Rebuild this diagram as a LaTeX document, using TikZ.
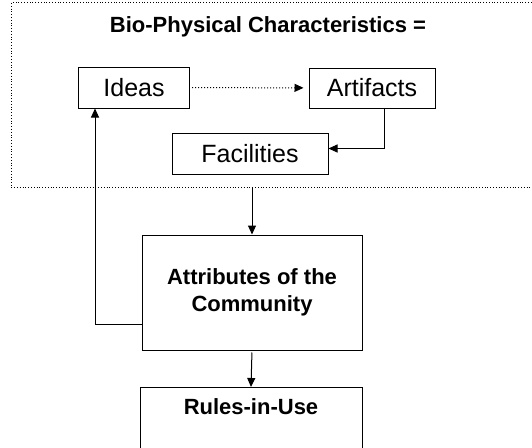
\documentclass[tikz,border=0pt]{standalone}
\usepackage{fontspec}
\setmainfont{Liberation Sans}
\usetikzlibrary{arrows.meta}

\tikzset{
  box/.style={draw, line width=1pt, inner sep=0pt, font=\fontsize{25}{30}\selectfont},
  boldbox/.style={draw, line width=1pt, inner sep=0pt, align=center, font=\bfseries\fontsize{22}{27}\selectfont},
  conn/.style={line width=1pt, -{Triangle[length=9pt,width=8pt]}}
}

\begin{document}
\begin{tikzpicture}[x=1pt,y=-1pt]

\useasboundingbox (0,0) rectangle (532,447);
\clip (0,0) rectangle (532,447);

\node[draw, dotted, line width=0.8pt, minimum width=540, minimum height=185, anchor=north west] (frame) at (11,2) {};
\node[font=\bfseries\fontsize{22}{26}\selectfont] (title) at (268,27) {Bio-Physical Characteristics =};

\node[box, minimum width=111, minimum height=41] (ideas) at (134,87.5) {Ideas};
\node[box, minimum width=126, minimum height=40] (artifacts) at (372,88) {Artifacts};
\node[box, minimum width=156, minimum height=41] (facilities) at (250,153.5) {Facilities};

\node[boldbox, minimum width=220, minimum height=115] (attrib) at (252,292.5) {Attributes of the\\Community};
\node[boldbox, minimum width=222, minimum height=90, anchor=north] (rules) at (251,387) {};
\node[font=\bfseries\fontsize{22}{26}\selectfont] (rulestext) at ([yshift=-20]rules.north) {Rules-in-Use};

\draw[conn, dotted, shorten <=2pt, shorten >=5pt] (ideas) -- (artifacts);
\draw[conn] ([xshift=12]artifacts.south) |- ([yshift=5]facilities.east);
\draw[conn] ([yshift=-32]attrib.west) -| ([xshift=-39]ideas.south);
\draw[conn] (frame.south -| attrib.north) -- (attrib.north);
\draw[conn, shorten <=2pt] (attrib.south) -- (rules.north);

\end{tikzpicture}
\end{document}
